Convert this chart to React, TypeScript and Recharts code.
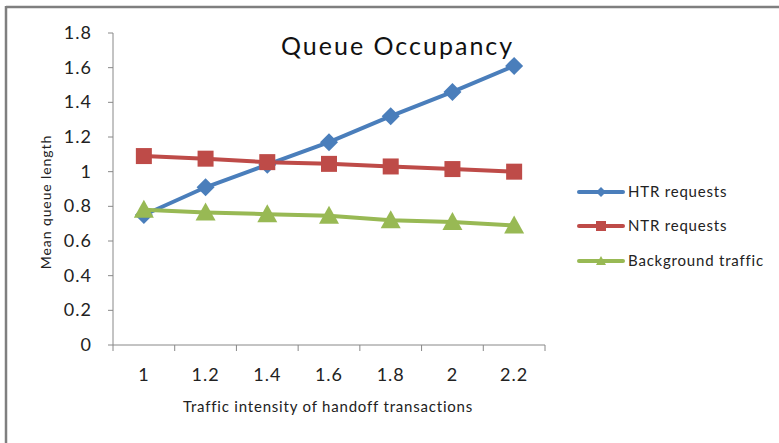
import React from 'react';
import { LineChart, Line, XAxis, YAxis } from 'recharts';

const intensities = [1, 1.2, 1.4, 1.6, 1.8, 2, 2.2];
const htrRequests = [0.75, 0.91, 1.04, 1.17, 1.32, 1.46, 1.61];
const ntrRequests = [1.09, 1.075, 1.055, 1.045, 1.03, 1.015, 1.0];
const backgroundTraffic = [0.78, 0.765, 0.755, 0.745, 0.72, 0.71, 0.69];
const yTicks = [0, 0.2, 0.4, 0.6, 0.8, 1, 1.2, 1.4, 1.6, 1.8];
const xTickLabels = ['1', '1.2', '1.4', '1.6', '1.8', '2', '2.2'];

const seriesNames = ['HTR requests', 'NTR requests', 'Background traffic'];
const BLUE = '#4A7EBB';
const RED = '#BE4B48';
const GREEN = '#98B954';
const FONT = 'Lato, "Open Sans", sans-serif';

const data = intensities.map((x, i) => ({
  x,
  htr: htrRequests[i],
  ntr: ntrRequests[i],
  bg: backgroundTraffic[i],
}));

const HALF_STEP = 432 / 7 / 2;

const Diamond = (props: any) => {
  const { cx, cy } = props;
  if (cx == null || cy == null) return null;
  const r = 9;
  return <polygon key={`d${cx}`} points={`${cx},${cy - r} ${cx + r},${cy} ${cx},${cy + r} ${cx - r},${cy}`} fill={BLUE} />;
};
const Square = (props: any) => {
  const { cx, cy } = props;
  if (cx == null || cy == null) return null;
  const s = 8;
  return <rect key={`s${cx}`} x={cx - s} y={cy - s} width={2 * s} height={2 * s} fill={RED} />;
};
const Triangle = (props: any) => {
  const { cx, cy } = props;
  if (cx == null || cy == null) return null;
  return <polygon key={`t${cx}`} points={`${cx},${cy - 10} ${cx + 10},${cy + 8} ${cx - 10},${cy + 8}`} fill={GREEN} />;
};

const XTick = (props: any) => {
  const { x, payload, index } = props;
  const axisY = 345;
  const label = xTickLabels[index] ?? String(payload.value);
  return (
    <g>
      <line x1={x - HALF_STEP} x2={x - HALF_STEP} y1={axisY} y2={axisY + 6} stroke="#888" strokeWidth={1} />
      {index === intensities.length - 1 && (
        <line x1={x + HALF_STEP} x2={x + HALF_STEP} y1={axisY} y2={axisY + 6} stroke="#888" strokeWidth={1} />
      )}
      <text x={x} y={381} textAnchor="middle" fontSize={18} letterSpacing={1} fill="#222" fontFamily={FONT}>
        {label}
      </text>
    </g>
  );
};

const YTick = (props: any) => {
  const { x, y, payload } = props;
  return (
    <text x={x} y={y + 6} textAnchor="end" fontSize={18} letterSpacing={1} fill="#222" fontFamily={FONT}>
      {String(payload.value)}
    </text>
  );
};

const LegendBox = () => {
  const colors = [BLUE, RED, GREEN];
  const rows = [192, 226, 261];
  return (
    <g>
      {seriesNames.map((name, i) => {
        const y = rows[i];
        const c = colors[i];
        const mx = 601;
        let marker;
        if (i === 0) marker = <polygon points={`${mx},${y - 5} ${mx + 5},${y} ${mx},${y + 5} ${mx - 5},${y}`} fill={c} />;
        else if (i === 1) marker = <rect x={mx - 5} y={y - 5} width={10} height={10} fill={c} />;
        else marker = <polygon points={`${mx},${y - 5} ${mx + 5},${y + 4} ${mx - 5},${y + 4}`} fill={c} />;
        return (
          <g key={name}>
            <line x1={579} x2={623} y1={y} y2={y} stroke={c} strokeWidth={4} strokeLinecap="round" />
            {marker}
            <text x={628} y={y + 5} fontSize={15} letterSpacing={0.8} fill="#222" fontFamily={FONT}>{name}</text>
          </g>
        );
      })}
    </g>
  );
};

export default function App() {
  return (
    <div style={{ position: 'fixed', left: 0, top: 0, width: 779, height: 443, background: '#fff', fontFamily: FONT, overflow: 'hidden' }}>
      <div style={{ position: 'absolute', left: 0, top: 0 }}>
        <LineChart width={779} height={443} data={data} margin={{ top: 33, right: 234, bottom: 38, left: 53 }}>
          <XAxis
            dataKey="x"
            type="number"
            domain={[0.9, 2.3]}
            ticks={intensities}
            interval={0}
            height={60}
            axisLine={{ stroke: '#888' }}
            tickLine={false}
            tick={<XTick />}
            label={{
              content: () => (
                <text x={328} y={412} textAnchor="middle" fontSize={15} letterSpacing={0.8} fill="#222" fontFamily={FONT}>
                  Traffic intensity of handoff transactions
                </text>
              ),
            }}
          />
          <YAxis
            type="number"
            domain={[0, 1.8]}
            ticks={yTicks}
            interval={0}
            width={60}
            tickSize={5}
            tickMargin={16}
            axisLine={{ stroke: '#888' }}
            tickLine={{ stroke: '#888' }}
            tick={<YTick />}
            label={{
              content: () => (
                <text x={51} y={202} transform="rotate(-90 51 202)" textAnchor="middle" fontSize={14} letterSpacing={0.9} fill="#222" fontFamily={FONT}>
                  Mean queue length
                </text>
              ),
            }}
          />
          <Line dataKey="htr" name={seriesNames[0]} stroke={BLUE} strokeWidth={4} dot={<Diamond />} activeDot={false} isAnimationActive={false} />
          <Line dataKey="ntr" name={seriesNames[1]} stroke={RED} strokeWidth={4} dot={<Square />} activeDot={false} isAnimationActive={false} />
          <Line dataKey="bg" name={seriesNames[2]} stroke={GREEN} strokeWidth={4} dot={<Triangle />} activeDot={false} isAnimationActive={false} />
        </LineChart>
      </div>
      <svg width={779} height={443} style={{ position: 'absolute', left: 0, top: 0, pointerEvents: 'none', zIndex: 5 }}>
        <text x={281} y={55} fontSize={25} letterSpacing={2} fill="#111" fontFamily={FONT}>Queue Occupancy</text>
        <LegendBox />
        <line x1={6} x2={779} y1={7} y2={7} stroke="#7f7f7f" strokeWidth={2.5} />
        <line x1={6} x2={6} y1={6} y2={443} stroke="#7f7f7f" strokeWidth={2.5} />
      </svg>
    </div>
  );
}
